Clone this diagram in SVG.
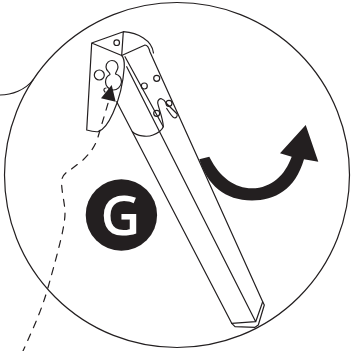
<svg xmlns="http://www.w3.org/2000/svg" width="351" height="351" viewBox="0 0 351 351">
<style>
.l{fill:none;stroke:#231f20;stroke-width:1.2;stroke-linejoin:round;stroke-linecap:round}
.d{fill:#231f20}
</style>
<rect width="351" height="351" fill="#fff"/>
<g id="frame"><circle class="l" cx="177" cy="175" r="172.500"/><path class="l" d="M0 95C12 95 25 90 33 80"/></g>
<g id="leg">
<path class="l" d="M91.700 43L123.300 31.700C138 33 152 40 153.500 53M123.300 31.700L121.700 55.500M91.700 43L121.700 55.500C124 58 124.500 62 124.300 67C123 85 119 100 113 113C109 122 104 130 98 131.700C94 132 90 131 86.700 130Z"/>
<path class="l" d="M121.700 55.500L145 45C147 45 149 48 150 52L262.700 301.700L264.300 305L258.300 325L255 327.300L235 326.700L231.700 323.300L116.700 101.700"/>
<path class="l" d="M125 56.700L163.300 126.700M126.700 66.700L255.700 321.700L262.700 301.700M231.700 323.300L255.700 321.700"/>
<path class="l" d="M132.400 131.700C137 136 147 137.500 153 135C158 133 162 130 163.300 126.700C163 118 159 110 157.700 103C157.500 100 160 98 162 99C164 99.500 165 101 166 103L176.700 113.500C178.500 116 176 118.500 173.500 117.500C171 115.500 169 112 166.700 108.500"/>
<circle class="l" cx="99.300" cy="75" r="5"/><circle class="l" cx="116.700" cy="42.700" r="2.800"/>
<path class="l" d="M106 67C106 62 110 60.500 112 60.500C116 60.500 118 64 118 67C118 70 115.500 72 115.500 74C119 75 121.500 78 121.500 82C121 87 117 90 113.500 90C109 90 105.500 86 105.500 82C105.500 78 108 75.500 110 74.500C110 72 106 71 106 67ZM105 92C103 90 104 88 106 88"/>
<circle class="l" cx="156.700" cy="78.300" r="3"/><circle class="l" cx="144.300" cy="86" r="3"/><circle class="l" cx="156.700" cy="113.300" r="3"/><circle class="l" cx="169" cy="103.300" r="3"/>
<path class="d" d="M101 98.300L111.700 85L115.700 101.700Z"/>
</g>
<g id="connectors"><path class="l" stroke-dasharray="7 7" d="M112 90L98 137C95 147 90 153 83 160C78 164 73 168 70 170C65 173 62 176 61.700 181C61 190 65 203 65 213C65 225 60 245 47.300 290C40 315 30 335 23 351"/></g>
<g id="arrow"><path class="d" d="M199.300 159.300L209.300 156.700C220 178 235 188 252 188.300C272 188 285 175 291.700 156.700L280 153.300L305.700 125L318.300 161.700L304 159.300C295 190 275 200.500 252 200.500C225 200.500 207 185 199.300 159.300Z"/></g>
<g id="G"><circle class="d" cx="121.400" cy="215" r="35.700"/><text x="120.500" y="235" text-anchor="middle" font-family="Open Sans,sans-serif" font-size="55" font-weight="600" fill="#fff">G</text></g>
</svg>
